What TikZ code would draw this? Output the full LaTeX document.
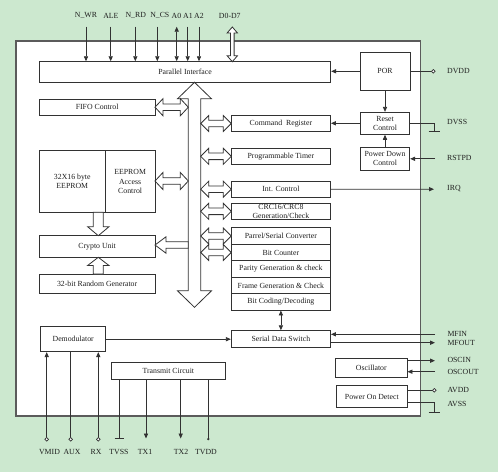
\documentclass[tikz,border=0pt]{standalone}
\usepackage{fontspec}
\setmainfont{Liberation Serif}
\usetikzlibrary{arrows.meta,calc}
\definecolor{bgc}{RGB}{204,232,207}
\definecolor{lnc}{RGB}{50,50,50}
\definecolor{txc}{RGB}{30,30,30}
\newcommand\lblfont{\fontsize{7.8}{9.2}\selectfont}
\newcommand\bnode[6]{\node[box,minimum width={(#4)-(#2)},minimum height={(#5)-(#3)}] (#1) at ({((#2)+(#4))/2},{((#3)+(#5))/2}) {#6};}
% horizontal hollow double arrow: x1 x2 y H s h
\newcommand\dah[6]{\draw[hollow] (#1,#3) -- ({#1+#6},{#3-#4}) -- ({#1+#6},{#3-#5}) -- ({#2-#6},{#3-#5}) -- ({#2-#6},{#3-#4}) -- (#2,#3) -- ({#2-#6},{#3+#4}) -- ({#2-#6},{#3+#5}) -- ({#1+#6},{#3+#5}) -- ({#1+#6},{#3+#4}) -- cycle;}
% vertical hollow double arrow: y1 y2 x W s h
\newcommand\dav[6]{\draw[hollow] (#3,#1) -- ({#3+#4},{#1+#6}) -- ({#3+#5},{#1+#6}) -- ({#3+#5},{#2-#6}) -- ({#3+#4},{#2-#6}) -- (#3,#2) -- ({#3-#4},{#2-#6}) -- ({#3-#5},{#2-#6}) -- ({#3-#5},{#1+#6}) -- ({#3-#4},{#1+#6}) -- cycle;}
\tikzset{
  box/.style={draw=lnc,fill=white,line width=0.9pt,inner sep=1pt,align=center,font=\lblfont,text=txc},
  hollow/.style={draw=lnc,fill=white,line width=0.8pt,line join=miter},
  conn/.style={draw=lnc,line width=0.8pt},
  arr/.style={conn,-{Triangle[length=5pt,width=4.2pt]}},
  darr/.style={conn,{Triangle[length=5pt,width=4.2pt]}-{Triangle[length=5pt,width=4.2pt]}},
  pin/.style={circle,draw=lnc,fill=white,line width=0.7pt,inner sep=0pt,minimum size=3.6pt},
  dot/.style={circle,fill=lnc,inner sep=0pt,minimum size=2.6pt},
  lab/.style={font=\lblfont,text=txc,inner sep=0pt},
}
\begin{document}
\begin{tikzpicture}[x=1pt,y=-1pt]
\useasboundingbox (0,0) rectangle (498,472);
\fill[bgc] (0,0) rectangle (498,472);
\draw[draw=lnc!80,fill=white,line width=1.5pt] (16,41) rectangle (420.7,416);
% boxes
\bnode{pi}{39.3}{61.7}{330.7}{82}{Parallel Interface}
\bnode{por}{360}{52.3}{410}{90.3}{POR}
\bnode{fifo}{39.3}{99.3}{155}{115}{FIFO Control}
\bnode{cmd}{231.3}{115.3}{330.5}{131.7}{Command~ Register}
\bnode{rst}{360.3}{112.3}{409.7}{134.3}{Reset\\Control}
\bnode{ptimer}{231.3}{148.3}{330.5}{164.3}{Programmable Timer}
\bnode{pdc}{360.3}{147.7}{409.7}{170}{Power Down\\Control}
\bnode{intc}{231.3}{181}{330.5}{197.3}{Int. Control}
\bnode{eep}{39.3}{150.7}{105.3}{212.3}{32X16 byte\\EEPROM}
\bnode{eac}{105.3}{150.7}{155}{212.3}{EEPROM\\Access\\Control}
\bnode{crc}{231.3}{203.3}{330.5}{219.3}{CRC16/CRC8\\Generation/Check}
\bnode{psc}{231.3}{227.7}{330.5}{244.3}{Parrel/Serial Converter}
\bnode{bitc}{231.3}{244.3}{330.5}{260.7}{Bit Counter}
\bnode{par}{231.3}{260.7}{330.5}{277.3}{Parity Generation \& check}
\bnode{frm}{231.3}{277.3}{330.5}{293.7}{Frame Generation \& Check}
\bnode{bcd}{231.3}{293.7}{330.5}{310}{Bit Coding/Decoding}
\bnode{crypto}{39.3}{235.7}{155}{257.3}{Crypto Unit}
\bnode{rng}{39.3}{274}{155}{293.3}{32-bit Random Generator}
\bnode{demod}{40.7}{326.7}{105.7}{351.7}{Demodulator}
\bnode{sds}{231.3}{330.7}{330.5}{347.3}{Serial Data Switch}
\bnode{osc}{335.7}{358.3}{407}{377.3}{Oscillator}
\bnode{pod}{336.7}{385.7}{407}{407.7}{Power On Detect}
\bnode{tc}{111.7}{362.3}{225}{379}{Transmit Circuit}
% internal bus
\dav{82.3}{307.3}{194.5}{17}{6.2}{16.5}
% left side block arrows
\dah{155}{188.3}{107.2}{8.6}{3.3}{8}
\dah{155}{188.3}{181}{8.6}{3.3}{8}
\draw[hollow] (155,245) -- (166,236.8) -- (166,241.8) -- (188.3,241.8) -- (188.3,248.2) -- (166,248.2) -- (166,253.2) -- cycle;
\draw[hollow] (98.3,235.7) -- (87.6,226.7) -- (93.3,226.7) -- (93.3,212.3) -- (103.3,212.3) -- (103.3,226.7) -- (109,226.7) -- cycle;
\draw[hollow] (98.3,257.3) -- (87.6,265.5) -- (93.3,265.5) -- (93.3,274) -- (103.3,274) -- (103.3,265.5) -- (109,265.5) -- cycle;
% right side block arrows
\dah{200.7}{231.3}{123.5}{8}{3.3}{8}
\dah{200.7}{231.3}{156.3}{8}{3.3}{8}
\dah{200.7}{231.3}{189.2}{8}{3.3}{8}
\dah{200.7}{231.3}{211.3}{8}{3.3}{8}
\dah{200.7}{231.3}{236}{8}{3.3}{8}
\dah{200.7}{231.3}{252.5}{8}{3.3}{8}
% D0-D7
\dav{27}{61.7}{232.3}{5.2}{1.8}{6}
% top pins
\coordinate (pwr) at (86,26.7);
\coordinate (pale) at (110.7,26.7);
\coordinate (prd) at (135.3,26.7);
\coordinate (pcs) at (157.3,26.7);
\coordinate (pa0) at (176.7,26.7);
\coordinate (pa1) at (187.7,26.7);
\coordinate (pa2) at (199,26.7);
\draw[arr] (pwr) -- (pwr |- pi.north);
\draw[arr] (pale) -- (pale |- pi.north);
\draw[arr] (prd) -- (prd |- pi.north);
\draw[arr] (pcs) -- (pcs |- pi.north);
\draw[darr] (pa0) -- (pa0 |- pi.north);
\draw[arr] (pa1) -- (pa1 |- pi.north);
\draw[arr] (pa2) -- (pa2 |- pi.north);
\node[lab] (lwr) at (86,15.7) {N\_WR};
\node[lab] (lale) at (110.9,15.7) {ALE};
\node[lab] (lrd) at (135.8,15.7) {N\_RD};
\node[lab] (lcs) at (159.8,15.7) {N\_CS};
\node[lab] (la0) at (176.4,15.7) {A0};
\node[lab] (la1) at (188,15.7) {A1};
\node[lab] (la2) at (198.9,15.7) {A2};
\node[lab] (ld) at (229.8,15.7) {D0-D7};
% right side
\draw[arr] (por.west) -- (por.west -| pi.east);
\node[pin] (dvdd) at (433.3,71.3) {};
\draw[conn] (por.east) -- (dvdd.west);
\node[lab,anchor=west] (ldvdd) at (447,71.3) {DVDD};
\draw[arr] (por.south) -- (rst.north);
\draw[arr] (rst.west) -- (rst.west -| cmd.east);
\coordinate (g1) at (434,131.7);
\draw[conn] (rst.east) -| (g1);
\draw[conn] ([xshift=-5.5pt]g1) -- ([xshift=5.5pt]g1);
\node[lab,anchor=west] (ldvss) at (447,122) {DVSS};
\draw[arr] (pdc.north) -- (rst.south);
\coordinate (rstpd) at (435,158.8);
\draw[arr] (rstpd) -- (rstpd -| pdc.east);
\node[lab,anchor=west] (lrstpd) at (447,158) {RSTPD};
\coordinate (irq) at (434,189.2);
\draw[arr] (intc.east) -- (irq);
\node[lab,anchor=west] (lirq) at (447,189) {IRQ};
\draw[darr] (bcd.south) -- (sds.north);
\draw[arr] (demod.east) -- (demod.east -| sds.west);
\coordinate (mfin) at (435,334.3);
\coordinate (mfout) at (435,342.7);
\draw[arr] (mfin) -- (mfin -| sds.east);
\draw[arr] (mfout -| sds.east) -- (mfout);
\node[lab,anchor=west] (lmfin) at (447.3,333.5) {MFIN};
\node[lab,anchor=west] (lmfout) at (447.3,342.7) {MFOUT};
\coordinate (oscin) at (435,360.7);
\coordinate (oscout) at (435,371.7);
\draw[arr] (oscin -| osc.east) -- (oscin);
\draw[arr] (oscout) -- (oscout -| osc.east);
\node[lab,anchor=west] (loscin) at (447.3,360) {OSCIN};
\node[lab,anchor=west] (loscout) at (447.3,371.7) {OSCOUT};
\node[pin] (avdd) at (434.3,390.3) {};
\draw[conn] (avdd -| pod.east) -- (avdd.west);
\coordinate (g2) at (434,412.7);
\coordinate (avss) at (434,402);
\draw[conn] (avss -| pod.east) -- (avss) -- (g2);
\draw[conn] ([xshift=-5.5pt]g2) -- ([xshift=5.5pt]g2);
\node[lab,anchor=west] (lavdd) at (447.3,390) {AVDD};
\node[lab,anchor=west] (lavss) at (447.3,404) {AVSS};
% bottom pins
\node[pin] (vmid) at (46.7,439.3) {};
\node[pin] (aux) at (70.7,439.3) {};
\node[pin] (rx) at (98.3,439.3) {};
\draw[arr] (vmid.north) -- (vmid |- demod.south);
\draw[conn] (aux.north) -- (aux |- demod.south);
\draw[arr] (rx.north) -- (rx |- demod.south);
\coordinate (tvss) at (119,438.3);
\draw[conn] (tvss |- tc.south) -- (tvss);
\draw[conn] ([xshift=-4.5pt]tvss) -- ([xshift=4.5pt]tvss);
\coordinate (tx1) at (146,438.5);
\coordinate (tx2) at (180.7,438.5);
\draw[arr] (tx1 |- tc.south) -- (tx1);
\draw[arr] (tx2 |- tc.south) -- (tx2);
\node[dot] (tvdd) at (208.3,439) {};
\draw[conn] (tvdd |- tc.south) -- (tvdd);
\node[lab] (lvmid) at (49.5,452.3) {VMID};
\node[lab] (laux) at (72,452.3) {AUX};
\node[lab] (lrx) at (96,452.3) {RX};
\node[lab] (ltvss) at (119,452.3) {TVSS};
\node[lab] (ltx1) at (145,452.3) {TX1};
\node[lab] (ltx2) at (181,452.3) {TX2};
\node[lab] (ltvdd) at (206,452.3) {TVDD};
\end{tikzpicture}
\end{document}
